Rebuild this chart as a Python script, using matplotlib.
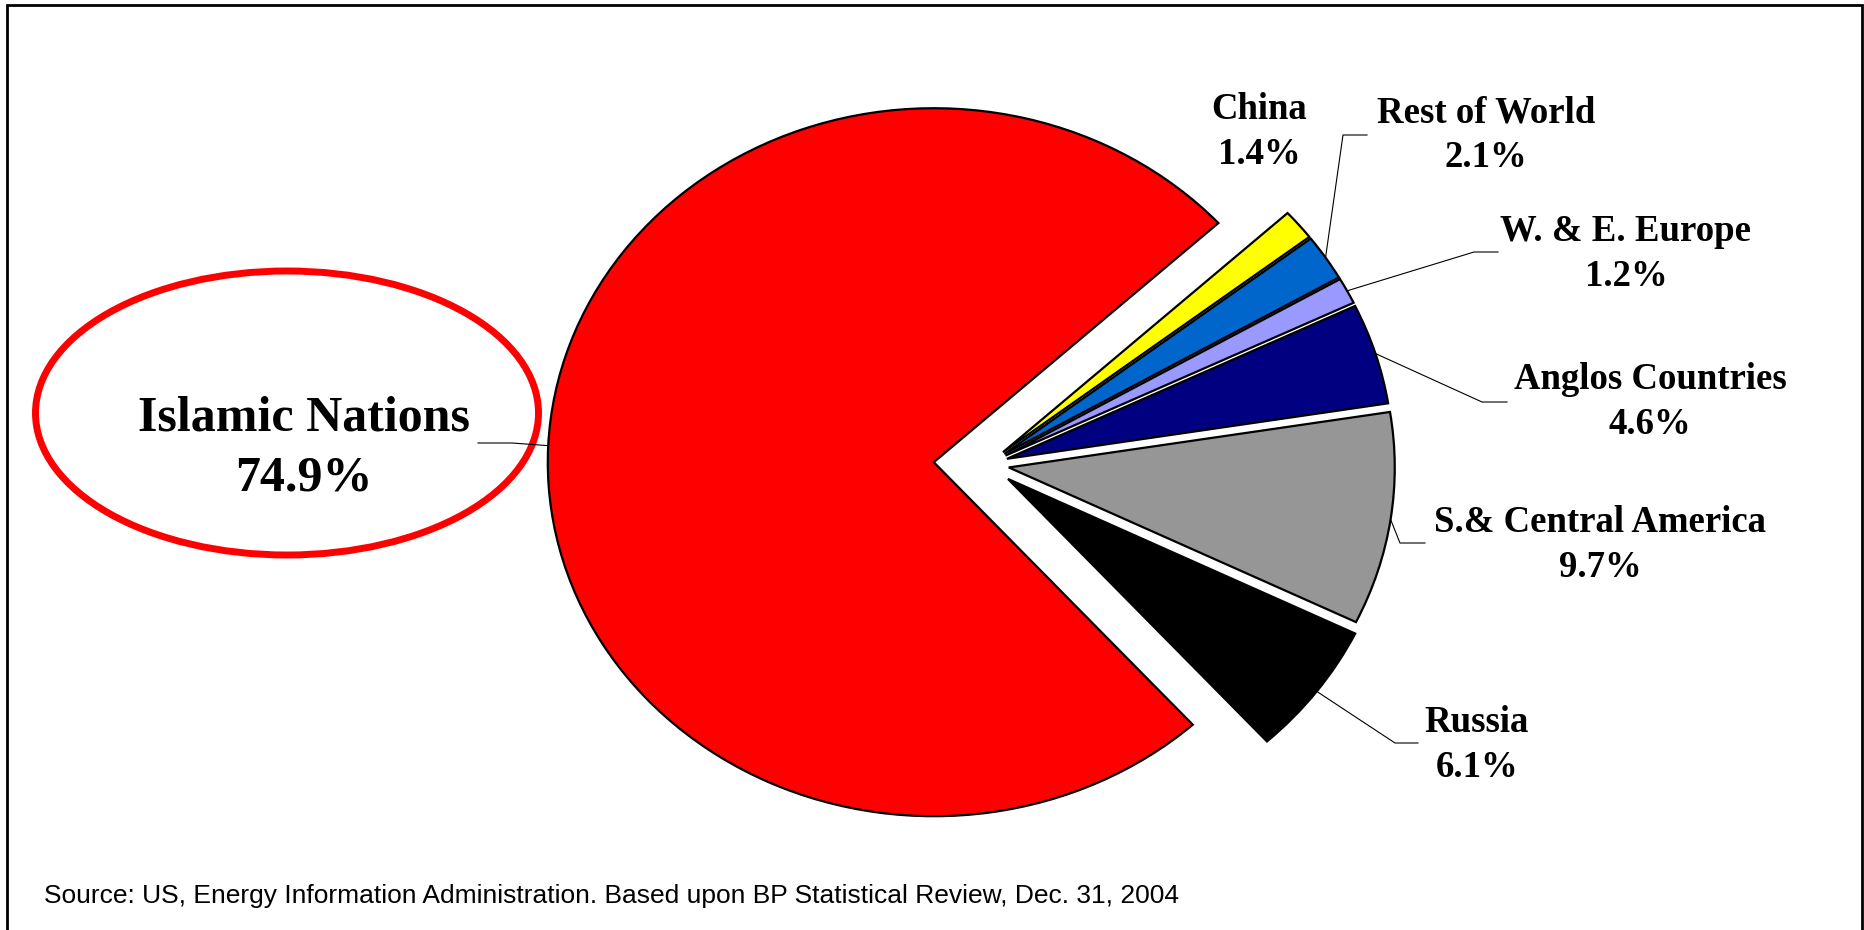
import matplotlib
matplotlib.use("Agg")
import matplotlib.pyplot as plt
from matplotlib.patches import Ellipse, Rectangle
import numpy as np

regions = ["Islamic Nations", "Russia", "S.& Central America", "Anglos Countries",
           "W. & E. Europe", "Rest of World", "China"]
shares = [74.9, 6.1, 9.7, 4.6, 1.2, 2.1, 1.4]
colors = ["#FF0000", "#000000", "#969696", "#000080", "#9999FF", "#0066CC", "#FFFF00"]
source = "Source: US, Energy Information Administration. Based upon BP Statistical Review, Dec. 31, 2004"

W, H = 1865, 930
fig = plt.figure(figsize=(W / 100, H / 100), dpi=100)
ax = fig.add_axes([0, 0, 1, 1])

# pie centre and radii in pixels (the pie is a bit wider than tall)
CX, CY, RX, RY = 987, 464.5, 386, 354


def px(x, y):
    return ((x - CX) / RX, (CY - y) / RY)


explode = [0.138, 0.068, 0.057, 0.054, 0.054, 0.054, 0.054]
wedges, _ = ax.pie(shares, colors=colors, startangle=42.5, counterclock=True,
                   explode=explode,
                   wedgeprops=dict(edgecolor="black", linewidth=1.6))

ax.set_aspect("auto")
ax.set_xlim(-CX / RX, (W - CX) / RX)
ax.set_ylim((CY - H) / RY, CY / RY)
ax.axis("off")

# label block centres and leader elbows, in pixels
label_pos = {
    "Islamic Nations": (304, 448),
    "Russia": (1477, 745),
    "S.& Central America": (1600, 545),
    "Anglos Countries": (1650, 402),
    "W. & E. Europe": (1626, 254),
    "Rest of World": (1486, 135),
    "China": (1259, 132),
}
elbows = {
    "Islamic Nations": [(478, 443), (512, 443)],
    "Russia": [(1418, 743), (1395, 743)],
    "S.& Central America": [(1425, 543), (1400, 543)],
    "Anglos Countries": [(1507, 402), (1482, 402)],
    "W. & E. Europe": [(1498, 252), (1474, 252)],
    "Rest of World": [(1367, 135), (1343, 135)],
}

for name, share, w in zip(regions, shares, wedges):
    x, y = px(*label_pos[name])
    big = name == "Islamic Nations"
    ax.text(x, y, f"{name}\n{share:.1f}%", ha="center", va="center",
            fontsize=36 if big else 26.5, fontweight="bold",
            family="Liberation Serif", linespacing=1.4 if big else 1.36)
    if name in elbows:
        mid = np.radians((w.theta1 + w.theta2) / 2)
        wx = w.center[0] + w.r * np.cos(mid)
        wy = w.center[1] + w.r * np.sin(mid)
        pts = [px(*p) for p in elbows[name]] + [(wx, wy)]
        ax.plot([p[0] for p in pts], [p[1] for p in pts], color="black", lw=0.8)

# red ring around the big slice's label
ax.add_patch(Ellipse(px(287, 413), 503 / RX, 284 / RY, fill=False,
                     edgecolor="#FF0000", linewidth=5))

fig.text(44 / W, 1 - 896 / H, source, ha="left", va="center", fontsize=19,
         family="Liberation Sans")

fig.add_artist(Rectangle((7 / W, -0.01), (1862 - 7) / W, (H - 5) / H + 0.01,
                         transform=fig.transFigure, fill=False,
                         edgecolor="black", linewidth=2))

fig.savefig("out.png", dpi=100)
